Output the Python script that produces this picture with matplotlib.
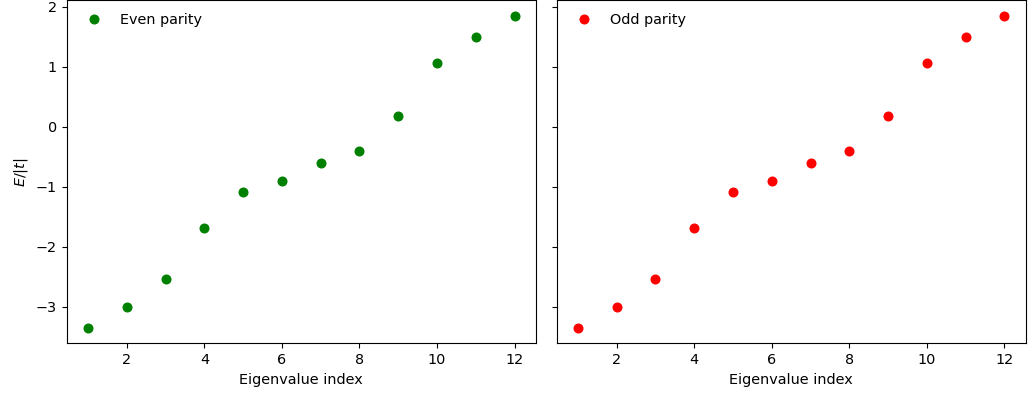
import matplotlib
matplotlib.use("Agg")
import matplotlib.pyplot as plt

index = [1, 2, 3, 4, 5, 6, 7, 8, 9, 10, 11, 12]
even_energies = [-3.35, -3.0, -2.53, -1.68, -1.09, -0.9, -0.6, -0.4, 0.19, 1.06, 1.5, 1.85]
odd_energies = [-3.35, -3.0, -2.53, -1.68, -1.09, -0.9, -0.6, -0.4, 0.19, 1.06, 1.5, 1.85]

plt.rcParams['font.size'] = 10.4

fig, (ax1, ax2) = plt.subplots(1, 2, figsize=(10.28, 3.96), dpi=100, sharey=True)
fig.subplots_adjust(left=0.0649, right=0.9978, bottom=0.133, top=0.999, wspace=0.044)

ax1.plot(index, even_energies, 'o', color='green', markersize=6.2, label='Even parity')
ax2.plot(index, odd_energies, 'o', color='red', markersize=6.2, label='Odd parity')

for ax in (ax1, ax2):
    ax.set_xlabel('Eigenvalue index')
    ax.legend(loc='upper left', frameon=False)
ax1.set_ylabel(r'$E/|t|$')

fig.savefig('out.png', dpi=100)
